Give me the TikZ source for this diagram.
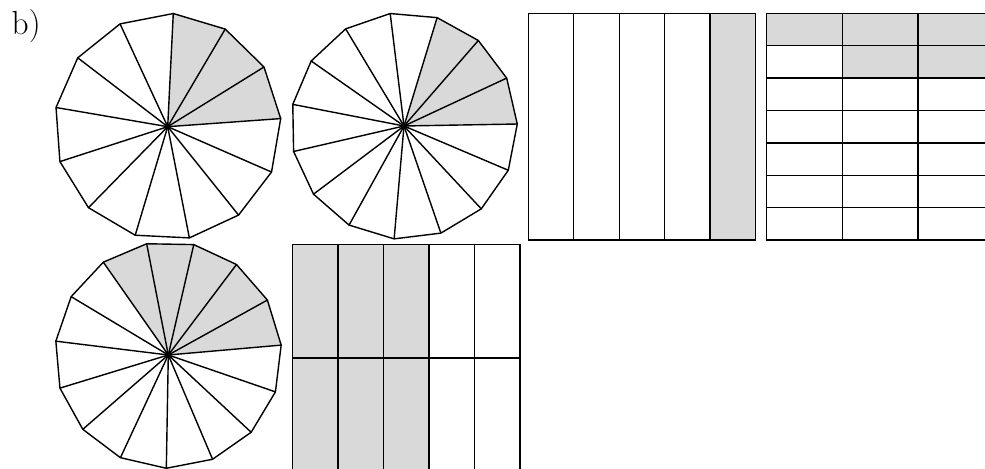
\documentclass[tikz,border=0pt]{standalone}
\definecolor{partgray}{HTML}{D9D9D9}
\begin{document}
\begin{tikzpicture}[
		x=0.02cm, y=0.02cm,
		line width=0.8pt,
		every node/.style={inner sep=0pt},
		part/.style={draw, fill=partgray},
		empty/.style={draw, fill=white}
		]
		\useasboundingbox (0,0) rectangle (985,469);
		\clip (0,0) rectangle (985,469);
		
		\node[font=\fontsize{19}{22}\selectfont, anchor=base west] (label) at (11,434) {b)};
		
		% wheels: centre / corners / first corner angle / shaded parts
		\foreach \cx/\cy/\n/\s/\m in {167.7/342.3/13/4.1/3, 404/343/15/1/3, 168.3/114/15/5/5} {
			\begin{scope}[shift={(\cx,\cy)}]
				\foreach \k in {1,...,\m} {
					\pgfmathsetmacro{\a}{\s+(\k-1)*360/\n}
					\pgfmathsetmacro{\b}{\s+\k*360/\n}
					\fill[partgray] (0,0) -- (\a:113.3) -- (\b:113.3) -- cycle;
				}
				\foreach \k in {1,...,\n} {
					\pgfmathsetmacro{\a}{\s+(\k-1)*360/\n}
					\pgfmathsetmacro{\b}{\s+\k*360/\n}
					\draw[line join=round] (0,0) -- (\a:113.3) -- (\b:113.3);
				}
			\end{scope}
		}
		
		% five strips, one shaded
		\foreach \i/\st in {0/empty, 1/empty, 2/empty, 3/empty, 4/part}
			\draw[\st] (528.3+\i*45.46,229) rectangle ++(45.46,226.7);
		
		% three by seven, five shaded
		\fill[partgray] (766.7,423.3) rectangle ++(227,32.4);
		\fill[partgray] (842.4,390.9) rectangle ++(151.3,32.4);
		\foreach \i in {0,1,2}
			\foreach \j in {0,...,6}
				\draw (766.7+\i*75.67,229+\j*32.38) rectangle ++(75.67,32.38);
		
		% five by two, six shaded
		\fill[partgray] (292.7,-2.6) rectangle ++(136.4,227.3);
		\foreach \i in {0,...,4}
			\foreach \j in {0,1}
				\draw (292.7+\i*45.46,-2.6+\j*113.65) rectangle ++(45.46,113.65);
		
	\end{tikzpicture}
\end{document}
